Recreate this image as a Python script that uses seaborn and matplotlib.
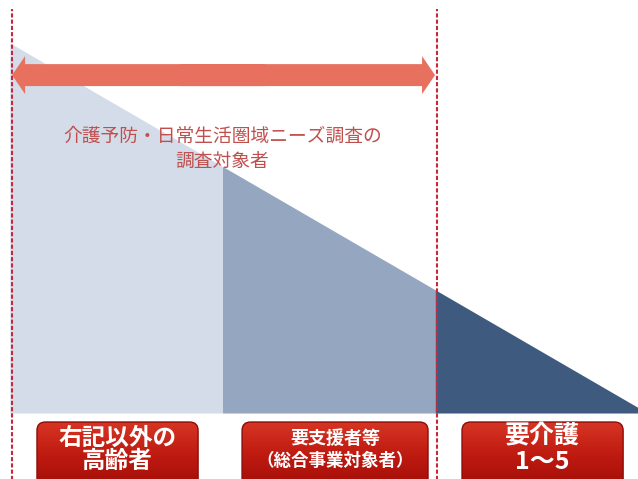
import numpy as np
import matplotlib
matplotlib.use("Agg")
import matplotlib.pyplot as plt
from matplotlib.patches import FancyArrow, FancyBboxPatch
from matplotlib.colors import LinearSegmentedColormap
import seaborn as sns

# Population wedge split into three equal-width groups
group_labels = ["右記以外の\n高齢者", "要支援者等\n（総合事業対象者）", "要介護\n1～5"]
segment_edges = [0, 1, 2, 3]          # group boundaries along the wedge
edge_heights = [3, 2, 1, 0]           # wedge height at each boundary
segment_colors = ["#D3DCE8", "#95A7C0", "#3E5A7F"]
survey_span = [0, 2]                  # groups covered by the survey
survey_title = "介護予防・日常生活圏域ニーズ調査の\n調査対象者"

sns.set_theme(style="white")
plt.rcParams["font.family"] = ["Noto Sans CJK JP", "DejaVu Sans"]

palette = sns.color_palette(segment_colors)

fig = plt.figure(figsize=(6.38, 4.79), dpi=100)
ax = fig.add_axes([0, 0, 1, 1])
ax.set_facecolor("white")

# wedge segments
for i in range(len(group_labels)):
    xs = [segment_edges[i], segment_edges[i + 1]]
    hs = [edge_heights[i], edge_heights[i + 1]]
    ax.fill_between(xs, 0, hs, color=palette[i], lw=0, zorder=1)

# dashed boundaries of the survey range
for x in survey_span:
    ax.plot([x + 0.01, x + 0.01], [-0.6, 3.276], color="#C8283C", lw=1.5,
            ls=(0, (2, 1)), zorder=4)

# double-headed arrow over the survey range (two overlapping halves)
arrow_y = 2.74
mid = (survey_span[0] + survey_span[1]) / 2
overlap = 0.2
arrow_kw = dict(width=0.178, head_width=0.308, head_length=0.061,
                length_includes_head=True, color="#E8705F", lw=0, zorder=3)
ax.add_patch(FancyArrow(mid + overlap, arrow_y,
                        survey_span[0] + 0.01 - (mid + overlap), 0, **arrow_kw))
ax.add_patch(FancyArrow(mid - overlap, arrow_y,
                        survey_span[1] - (mid - overlap), 0, **arrow_kw))

ax.text(1.0, 2.14, survey_title, ha="center", va="center", fontsize=13.5,
        color="#C0504D", linespacing=1.25, zorder=5)

# red label boxes with a vertical gradient
box_spans = [(0.127, 0.885), (1.092, 1.967), (2.127, 2.885)]
box_top, box_bottom = -0.073, -0.62
red_cmap = LinearSegmentedColormap.from_list(
    "redbox", ["#A00D08", "#BE1A10", "#D63524"])
grad = np.linspace(0, 1, 256).reshape(-1, 1)
text_styles = [
    dict(fontsize=17, linespacing=0.98),
    None,
    dict(fontsize=18, linespacing=1.1),
]
for (x0, x1), label, style in zip(box_spans, group_labels, text_styles):
    patch = FancyBboxPatch((x0, box_bottom), x1 - x0, box_top - box_bottom,
                           boxstyle="round,pad=0,rounding_size=0.04",
                           mutation_aspect=1.72, facecolor="none",
                           edgecolor="#8E0B08", lw=1.0, zorder=6)
    ax.add_patch(patch)
    img = ax.imshow(grad, extent=[x0, x1, box_bottom, box_top], origin="lower",
                    aspect="auto", cmap=red_cmap, zorder=5)
    img.set_clip_path(patch)
    cx = (x0 + x1) / 2
    if style is None:
        line1, line2 = label.split("\n")
        ax.text(cx, -0.203, line1, ha="center", va="center", fontsize=13,
                color="white", fontweight="bold", zorder=7)
        ax.text(cx, -0.385, line2, ha="center", va="center", fontsize=12.6,
                color="white", fontweight="bold", zorder=7)
    else:
        ax.text(cx, -0.295, label, ha="center", va="center", color="white",
                fontweight="bold", zorder=7, **style)

ax.set_xlim(-0.047, 2.955)
ax.set_ylim(-0.535, 3.349)
ax.axis("off")

fig.savefig("out.png", dpi=100, facecolor="white")
